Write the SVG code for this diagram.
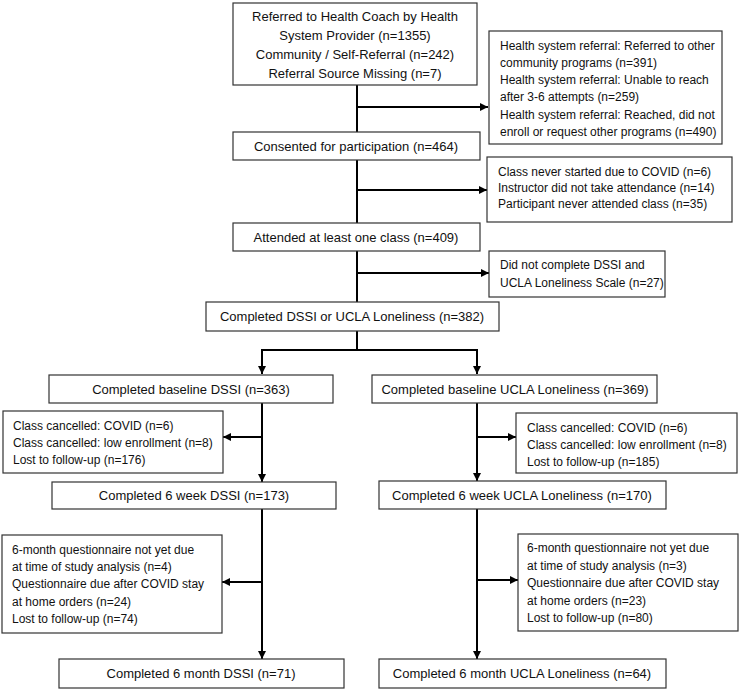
<svg xmlns="http://www.w3.org/2000/svg" width="750" height="689" viewBox="0 0 750 689">
<defs>
<marker id="ah" viewBox="0 0 10 10" markerUnits="userSpaceOnUse" markerWidth="9" markerHeight="8" refX="10" refY="5" orient="auto">
<path d="M0,0 L10,5 L0,10 z" fill="#000"/>
</marker>
<style>
rect{fill:#fff;stroke:#333;stroke-width:1.2}
text{font-family:"Liberation Sans",Arial,sans-serif;fill:#111}
.m{font-size:13px;text-anchor:middle}
.s{font-size:12px}
.c line,.c path{stroke:#000;stroke-width:2;fill:none}
.a{marker-end:url(#ah)}
</style>
</defs>
<rect x="0" y="0" width="750" height="689" style="fill:#fff;stroke:none"/>
<g class="c" id="connectors">
<line x1="357" y1="85" x2="357" y2="132"/>
<line class="a" x1="357" y1="107" x2="488" y2="107"/>
<line x1="357" y1="160" x2="357" y2="223"/>
<line class="a" x1="357" y1="190" x2="487" y2="190"/>
<line x1="357" y1="251" x2="357" y2="302"/>
<line class="a" x1="357" y1="273" x2="489" y2="273"/>
<line x1="357" y1="331" x2="357" y2="350"/>
<line x1="262" y1="350" x2="477" y2="350"/>
<line class="a" x1="262" y1="349" x2="262" y2="374"/>
<line class="a" x1="477" y1="349" x2="477" y2="374"/>
<line class="a" x1="262" y1="403" x2="262" y2="482"/>
<line class="a" x1="262" y1="437" x2="223" y2="437"/>
<line class="a" x1="477" y1="403" x2="477" y2="481"/>
<line class="a" x1="477" y1="437" x2="516" y2="437"/>
<line class="a" x1="262" y1="509" x2="262" y2="659"/>
<line class="a" x1="262" y1="582" x2="222" y2="582"/>
<line class="a" x1="477" y1="509" x2="477" y2="659"/>
<line class="a" x1="477" y1="580" x2="518" y2="580"/>
</g>
<g id="referred">
<rect x="233" y="3" width="244" height="82"/>
<text class="m" x="355" y="21">Referred to Health Coach by Health</text>
<text class="m" x="355" y="40">System Provider (n=1355)</text>
<text class="m" x="355" y="59">Community / Self-Referral (n=242)</text>
<text class="m" x="355" y="78">Referral Source Missing (n=7)</text>
</g>
<g id="excluded1">
<rect x="489" y="31" width="233" height="113"/>
<text class="s" x="500" y="49.5">Health system referral: Referred to other</text>
<text class="s" x="500" y="66.8">community programs (n=391)</text>
<text class="s" x="500" y="84.1">Health system referral: Unable to reach</text>
<text class="s" x="500" y="101.4">after 3-6 attempts (n=259)</text>
<text class="s" x="500" y="118.7">Health system referral: Reached, did not</text>
<text class="s" x="500" y="136">enroll or request other programs (n=490)</text>
</g>
<g id="consented">
<rect x="233" y="132" width="247" height="28"/>
<text class="m" x="356" y="151">Consented for participation (n=464)</text>
</g>
<g id="excluded2">
<rect x="487" y="157" width="245" height="65"/>
<text class="s" x="498" y="176">Class never started due to COVID (n=6)</text>
<text class="s" x="498" y="192">Instructor did not take attendance (n=14)</text>
<text class="s" x="498" y="208">Participant never attended class (n=35)</text>
</g>
<g id="attended">
<rect x="233" y="223" width="247" height="28"/>
<text class="m" x="356" y="242">Attended at least one class (n=409)</text>
</g>
<g id="excluded3">
<rect x="489" y="251" width="176" height="46"/>
<text class="s" x="500" y="269">Did not complete DSSI and</text>
<text class="s" x="500" y="287">UCLA Loneliness Scale (n=27)</text>
</g>
<g id="completed">
<rect x="206" y="302" width="293" height="29"/>
<text class="m" x="352" y="321">Completed DSSI or UCLA Loneliness (n=382)</text>
</g>
<g id="baseDSSI">
<rect x="49" y="375" width="284" height="28"/>
<text class="m" x="191" y="394">Completed baseline DSSI (n=363)</text>
</g>
<g id="baseUCLA">
<rect x="372" y="375" width="285" height="28"/>
<text class="m" x="515" y="394">Completed baseline UCLA Loneliness (n=369)</text>
</g>
<g id="lossDSSI1">
<rect x="3" y="411" width="220" height="62"/>
<text class="s" x="13" y="430">Class cancelled: COVID (n=6)</text>
<text class="s" x="13" y="447">Class cancelled: low enrollment (n=8)</text>
<text class="s" x="13" y="464">Lost to follow-up (n=176)</text>
</g>
<g id="lossUCLA1">
<rect x="516" y="413" width="221" height="60"/>
<text class="s" x="527" y="432">Class cancelled: COVID (n=6)</text>
<text class="s" x="527" y="449">Class cancelled: low enrollment (n=8)</text>
<text class="s" x="527" y="466">Lost to follow-up (n=185)</text>
</g>
<g id="wk6DSSI">
<rect x="52" y="482" width="284" height="27"/>
<text class="m" x="194" y="500">Completed 6 week DSSI (n=173)</text>
</g>
<g id="wk6UCLA">
<rect x="379" y="481" width="287" height="28"/>
<text class="m" x="522" y="500">Completed 6 week UCLA Loneliness (n=170)</text>
</g>
<g id="lossDSSI2">
<rect x="2" y="535" width="220" height="98"/>
<text class="s" x="12" y="554">6-month questionnaire not yet due</text>
<text class="s" x="12" y="571">at time of study analysis (n=4)</text>
<text class="s" x="12" y="588">Questionnaire due after COVID stay</text>
<text class="s" x="12" y="606">at home orders (n=24)</text>
<text class="s" x="12" y="623">Lost to follow-up (n=74)</text>
</g>
<g id="lossUCLA2">
<rect x="518" y="534" width="220" height="97"/>
<text class="s" x="527" y="552">6-month questionnaire not yet due</text>
<text class="s" x="527" y="570">at time of study analysis (n=3)</text>
<text class="s" x="527" y="587">Questionnaire due after COVID stay</text>
<text class="s" x="527" y="605">at home orders (n=23)</text>
<text class="s" x="527" y="622">Lost to follow-up (n=80)</text>
</g>
<g id="mo6DSSI">
<rect x="59" y="659" width="285" height="29"/>
<text class="m" x="201" y="678">Completed 6 month DSSI (n=71)</text>
</g>
<g id="mo6UCLA">
<rect x="379" y="659" width="287" height="29"/>
<text class="m" x="522" y="678">Completed 6 month UCLA Loneliness (n=64)</text>
</g>
</svg>
